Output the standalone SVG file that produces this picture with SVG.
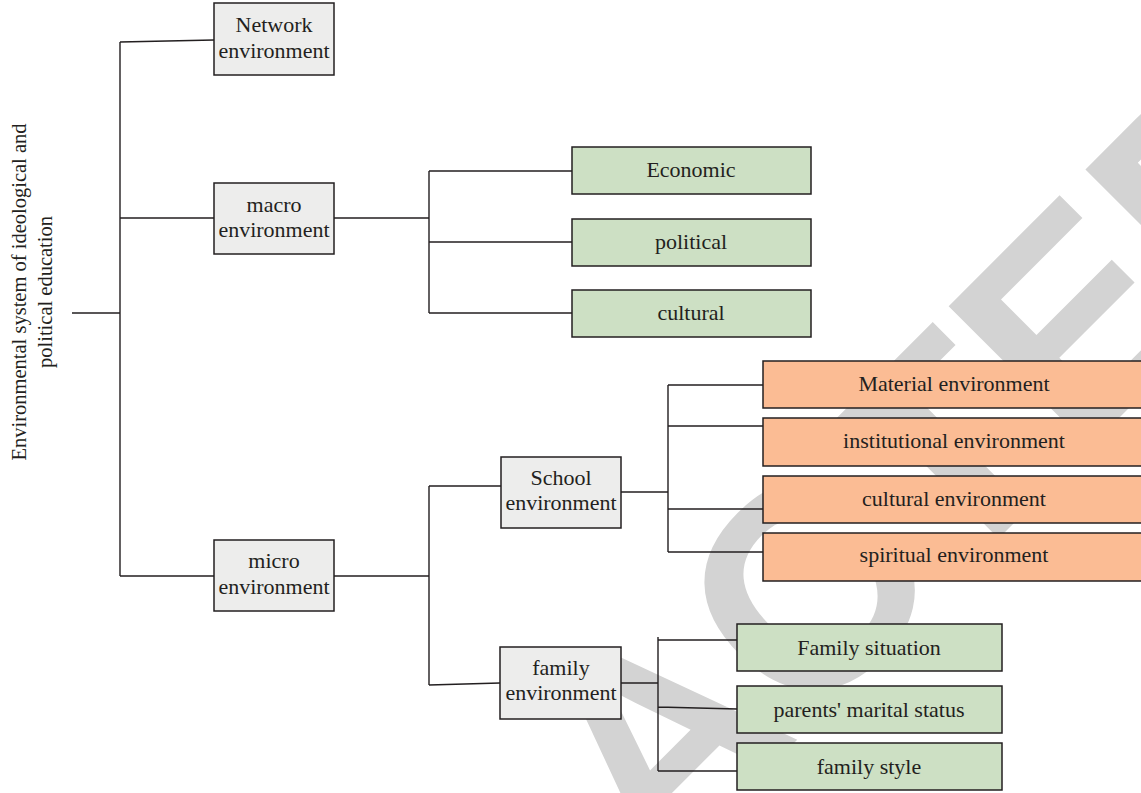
<svg xmlns="http://www.w3.org/2000/svg" width="1141" height="793" viewBox="0 0 1141 793">
<style>
.wm{font-family:"Liberation Sans",Arial,sans-serif;font-weight:bold;font-size:290px;fill:#d3d3d3}
.box{stroke:#231f20;stroke-width:1.5}
.g{fill:#ededec}
.gr{fill:#cde0c4}
.or{fill:#fbbc94}
.t{font-family:"Liberation Serif","Times New Roman",serif;font-size:22px;fill:#231f20;text-anchor:middle}
.tt{font-family:"Liberation Serif","Times New Roman",serif;font-size:20.5px;fill:#231f20;text-anchor:middle}
.ln{fill:none;stroke:#231f20;stroke-width:1.4}
</style>
<rect x="0" y="0" width="1141" height="793" fill="#ffffff"/>
<text class="wm" transform="translate(61,1476) rotate(-45)">RETR<tspan dx="50">ACTED</tspan></text>
<g id="connectors" class="ln">
<path d="M72,313H120M120,42V576M120,42L214,40M120,218H214M120,576H214"/>
<path d="M334,218H429M429,171V313M429,171H572M429,242H572M429,313H572"/>
<path d="M334,576H429M429,486V685M429,486H501M429,685L500,683"/>
<path d="M621,492H668M668,385V552M668,385H763M668,426H763M668,509H763M668,552H763"/>
<path d="M621,683H658M658,637V771M658,640H737M658,707L737,709M658,771H737"/>
</g>
<g id="title"><text class="tt" transform="translate(26,292) rotate(-90)">Environmental system of ideological and</text><text class="tt" transform="translate(52,292) rotate(-90)">political education</text></g>
<g id="network"><rect class="box g" x="214" y="3" width="120" height="72"/><text class="t" x="274" y="32">Network</text><text class="t" x="274" y="58">environment</text></g>
<g id="macro"><rect class="box g" x="214" y="183" width="120" height="71"/><text class="t" x="274" y="212">macro</text><text class="t" x="274" y="237">environment</text></g>
<g id="micro"><rect class="box g" x="214" y="540" width="120" height="71"/><text class="t" x="274" y="568">micro</text><text class="t" x="274" y="594">environment</text></g>
<g id="economic"><rect class="box gr" x="572" y="147" width="239" height="47"/><text class="t" x="691" y="177">Economic</text></g>
<g id="political"><rect class="box gr" x="572" y="219" width="239" height="47"/><text class="t" x="691" y="249">political</text></g>
<g id="cultural"><rect class="box gr" x="572" y="290" width="239" height="47"/><text class="t" x="691" y="320">cultural</text></g>
<g id="school"><rect class="box g" x="501" y="457" width="120" height="71"/><text class="t" x="561" y="485">School</text><text class="t" x="561" y="510">environment</text></g>
<g id="family"><rect class="box g" x="500" y="647" width="121" height="72"/><text class="t" x="561" y="675">family</text><text class="t" x="561" y="700">environment</text></g>
<g id="material"><rect class="box or" x="763" y="361" width="382" height="47"/><text class="t" x="954" y="391">Material environment</text></g>
<g id="institutional"><rect class="box or" x="763" y="418" width="382" height="48"/><text class="t" x="954" y="448">institutional environment</text></g>
<g id="cultural-env"><rect class="box or" x="763" y="476" width="382" height="47"/><text class="t" x="954" y="506">cultural environment</text></g>
<g id="spiritual"><rect class="box or" x="763" y="533" width="382" height="48"/><text class="t" x="954" y="562">spiritual environment</text></g>
<g id="family-situation"><rect class="box gr" x="737" y="624" width="265" height="47"/><text class="t" x="869" y="655">Family situation</text></g>
<g id="marital"><rect class="box gr" x="737" y="686" width="265" height="47"/><text class="t" x="869" y="717">parents' marital status</text></g>
<g id="family-style"><rect class="box gr" x="737" y="743" width="265" height="47"/><text class="t" x="869" y="774">family style</text></g>
</svg>
